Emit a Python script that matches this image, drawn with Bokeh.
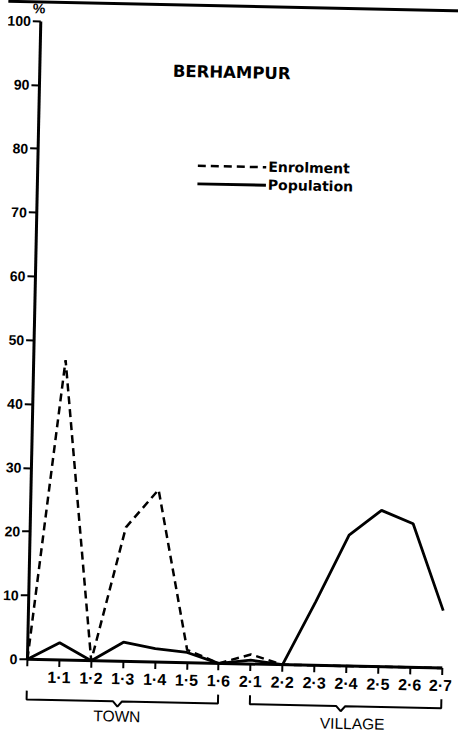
from bokeh.plotting import figure
from bokeh.io import curdoc
from bokeh.models import (Range1d, LinearAxis, FixedTicker, Legend, LegendItem,
                          Label, Span, CustomJS)
from bokeh.core.properties import value
from bokeh.embed import file_html
from bokeh.resources import INLINE

# Class positions along the x axis (first position is the origin)
class_labels = ["", "1·1", "1·2", "1·3", "1·4", "1·5", "1·6",
                "2·1", "2·2", "2·3", "2·4", "2·5", "2·6", "2·7"]
positions = list(range(len(class_labels)))

# Percentages per class
enrolment = [0, 47, 0, 21, 27, 2, 0, 1.5, 0, 0, 0, 0, 0, 0]
population = [0, 2.7, 0, 3.0, 2.1, 1.6, 0, 0.6, 0, 10, 20.5, 24.5, 22.5, 9]

# Grouping of classes under the axis
groups = ["TOWN", "VILLAGE"]
group_start = [0, 7]
group_end = [6, 13]

y_ticks = list(range(0, 101, 10))

# Canvas geometry
W, H = 458, 743
X0_PX, STEP_PX = 33, 31.9      # origin and spacing of the class positions
Y0_PX, UNIT_PX = 663, 6.383    # baseline and pixels per percent

p = figure(width=W, height=H, output_backend="svg", toolbar_location=None,
           x_range=Range1d(-X0_PX / STEP_PX, (W - X0_PX) / STEP_PX),
           y_range=Range1d(-(H - Y0_PX) / UNIT_PX, Y0_PX / UNIT_PX),
           x_axis_type=None, y_axis_type=None, min_border=0)
p.outline_line_color = None
p.background_fill_color = "white"
p.border_fill_color = "white"

# Axes crossing at the origin
yax = LinearAxis(fixed_location=0, bounds=(0, 100),
                 ticker=FixedTicker(ticks=y_ticks, minor_ticks=[]))
yax.axis_line_width = 3
yax.major_tick_line_width = 2
yax.major_tick_out = 8
yax.major_tick_in = 0
yax.minor_tick_line_color = None
yax.major_label_standoff = 2
yax.major_label_text_font = "Liberation Sans"
yax.major_label_text_font_style = "bold"
yax.major_label_text_font_size = "14px"
yax.major_label_text_color = "black"
p.add_layout(yax, "left")

xax = LinearAxis(fixed_location=0, bounds=(0, len(class_labels) - 1),
                 ticker=FixedTicker(ticks=positions, minor_ticks=[]),
                 major_label_overrides={i: lab for i, lab in zip(positions, class_labels)})
xax.axis_line_width = 3
xax.major_tick_line_width = 2
xax.major_tick_out = 7
xax.major_tick_in = 0
xax.minor_tick_line_color = None
xax.major_label_standoff = 2
xax.major_label_text_font = "Liberation Sans"
xax.major_label_text_font_style = "bold"
xax.major_label_text_font_size = "16px"
xax.major_label_text_color = "black"
p.add_layout(xax, "below")

# Series
r_enr = p.line(positions, enrolment, line_color="black", line_width=2.5,
               line_dash="8 5")
r_pop = p.line(positions, population, line_color="black", line_width=2.8)

legend = Legend(items=[LegendItem(label="Enrolment", renderers=[r_enr]),
                       LegendItem(label="Population", renderers=[r_pop])],
                location=(193, H - 193))
legend.glyph_width = 69
legend.glyph_height = 18
legend.label_height = 18
legend.label_standoff = 2
legend.padding = 0
legend.margin = 0
legend.spacing = 0
legend.border_line_color = None
legend.background_fill_alpha = 0
legend.label_text_font = "DejaVu Sans"
legend.label_text_font_style = "bold"
legend.label_text_font_size = "14px"
legend.label_text_color = "black"
p.add_layout(legend)

# Title and unit
p.add_layout(Label(x=166, y=H - 72, x_units="screen", y_units="screen",
                   text="BERHAMPUR", text_baseline="middle", text_align="left",
                   text_font="DejaVu Sans", text_font_style="bold",
                   text_font_size="16.5px", text_color="black"))
p.add_layout(Label(x=31, y=H - 12, x_units="screen", y_units="screen",
                   text="%", text_baseline="middle", text_align="center",
                   text_font="Liberation Sans", text_font_style="bold",
                   text_font_size="14px", text_color="black"))

# Page edge rule along the top
p.add_layout(Span(location=Y0_PX / UNIT_PX - 5.5 / UNIT_PX, dimension="width",
                  line_color="black", line_width=3))

# Group brackets under the class labels (notch and caption sit a little off centre)
base = -6.3
hook = 1.4
dip = 0.8
half = 0.14
notch_shift = [-0.15, -0.15]
caption_shift = [-0.16, 0.22]
xs, ys, cap_x = [], [], []
for a, b, ns, cs in zip(group_start, group_end, notch_shift, caption_shift):
    m = (a + b) / 2 + ns
    cap_x.append((a + b) / 2 + cs)
    xs.append([a, a, m - half, m, m + half, b, b])
    ys.append([base + hook, base, base, base - dip, base, base, base + hook])
p.multi_line(xs, ys, line_color="black", line_width=2)
p.text(x=cap_x, y=[-8.6, -9.0], text=groups, text_align="center",
       text_baseline="middle", text_font=value("Liberation Sans"),
       text_font_size="15.5px", text_color="black")

# Tilt the finished sheet slightly once the plot has been laid out
doc = curdoc()
doc.add_root(p)
doc.js_on_event("document_ready", CustomJS(code="""
setTimeout(() => {
  document.documentElement.style.overflow = "hidden";
  const b = document.body;
  b.style.overflow = "hidden";
  b.style.transformOrigin = "229px 371.5px";
  b.style.transform = "rotate(1.2deg)";
}, 30);
"""))

open("out.html", "w").write(file_html(p, INLINE))
